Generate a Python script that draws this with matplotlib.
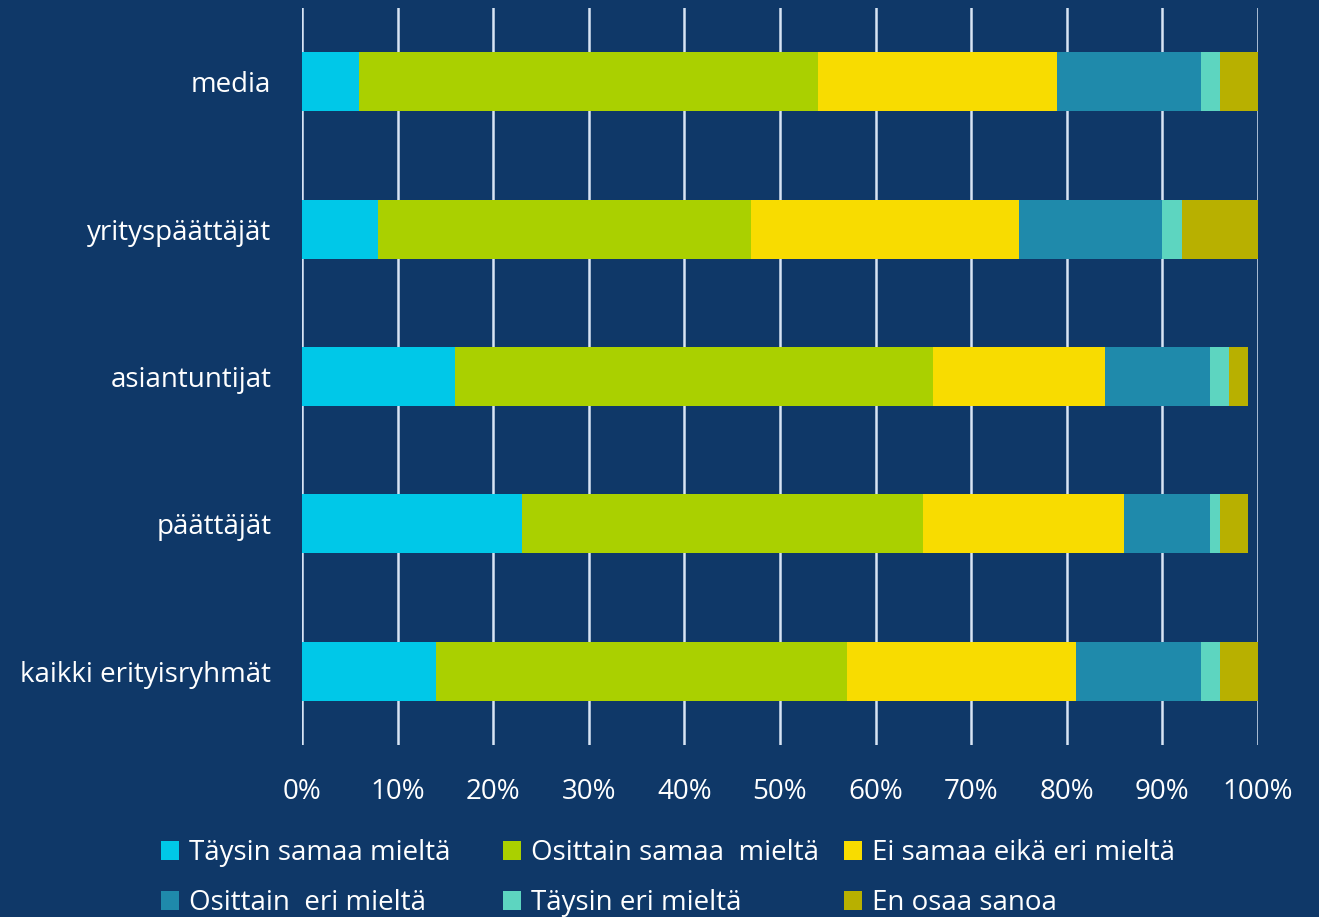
import numpy as np
import matplotlib
matplotlib.use("Agg")
import matplotlib.pyplot as plt
from matplotlib.patches import Patch

plt.rcParams['font.family'] = ['Open Sans', 'DejaVu Sans']

groups = ["media", "yrityspäättäjät", "asiantuntijat", "päättäjät", "kaikki erityisryhmät"]
series = ["Täysin samaa mieltä", "Osittain samaa  mieltä", "Ei samaa eikä eri mieltä",
          "Osittain  eri mieltä", "Täysin eri mieltä", "En osaa sanoa"]
taysin_samaa = [6, 8, 16, 23, 14]
osittain_samaa = [48, 39, 50, 42, 43]
ei_samaa_eika_eri = [25, 28, 18, 21, 24]
osittain_eri = [15, 15, 11, 9, 13]
taysin_eri = [2, 2, 2, 1, 2]
en_osaa = [4, 8, 2, 3, 4]
colors = ["#00c8e8", "#aad000", "#f8dc00", "#1f8aab", "#5dd5c0", "#b8b000"]

BG = "#0f3868"
FS = 20

data = [taysin_samaa, osittain_samaa, ei_samaa_eika_eri, osittain_eri, taysin_eri, en_osaa]

fig = plt.figure(figsize=(13.19, 9.17), dpi=100, facecolor=BG)
ax = fig.add_axes([302 / 1319, 1 - 745 / 917, (1258 - 302) / 1319, (745 - 8) / 917])
ax.set_facecolor(BG)

y = np.arange(len(groups))[::-1]
left = np.zeros(len(groups))
for vals, name, col in zip(data, series, colors):
    ax.barh(y, vals, left=left, height=0.4, color=col, label=name, zorder=3)
    left += np.array(vals)

ax.set_xlim(0, 100)
ax.set_ylim(-0.5, 4.5)
ax.set_xticks(np.arange(0, 101, 10))
ax.set_xticklabels([f"{v}%" for v in range(0, 101, 10)], color="white", fontsize=FS)
ax.set_yticks(y)
ax.set_yticklabels(groups, color="white", fontsize=FS)
ax.tick_params(length=0)
ax.tick_params(axis="x", pad=24)
ax.tick_params(axis="y", pad=22)
ax.xaxis.grid(True, color="#d8e4f4", linewidth=1.8, zorder=0)
for s in ax.spines.values():
    s.set_visible(False)

# legend: 3 evenly spaced columns, filled row by row
col_x = [150, 492, 833]
for j, x0 in enumerate(col_x):
    idx = [j, j + 3]
    handles = [Patch(facecolor=colors[i], label=series[i]) for i in idx]
    fig.legend(handles=handles, ncol=1, loc="upper left", bbox_to_anchor=(x0 / 1319, 1 - 828 / 917),
               frameon=False, fontsize=FS, labelcolor="white", handlelength=0.65, handleheight=0.65,
               handletextpad=0.35, labelspacing=0.8, borderaxespad=0)

fig.savefig("out.png", dpi=100, facecolor=BG)
